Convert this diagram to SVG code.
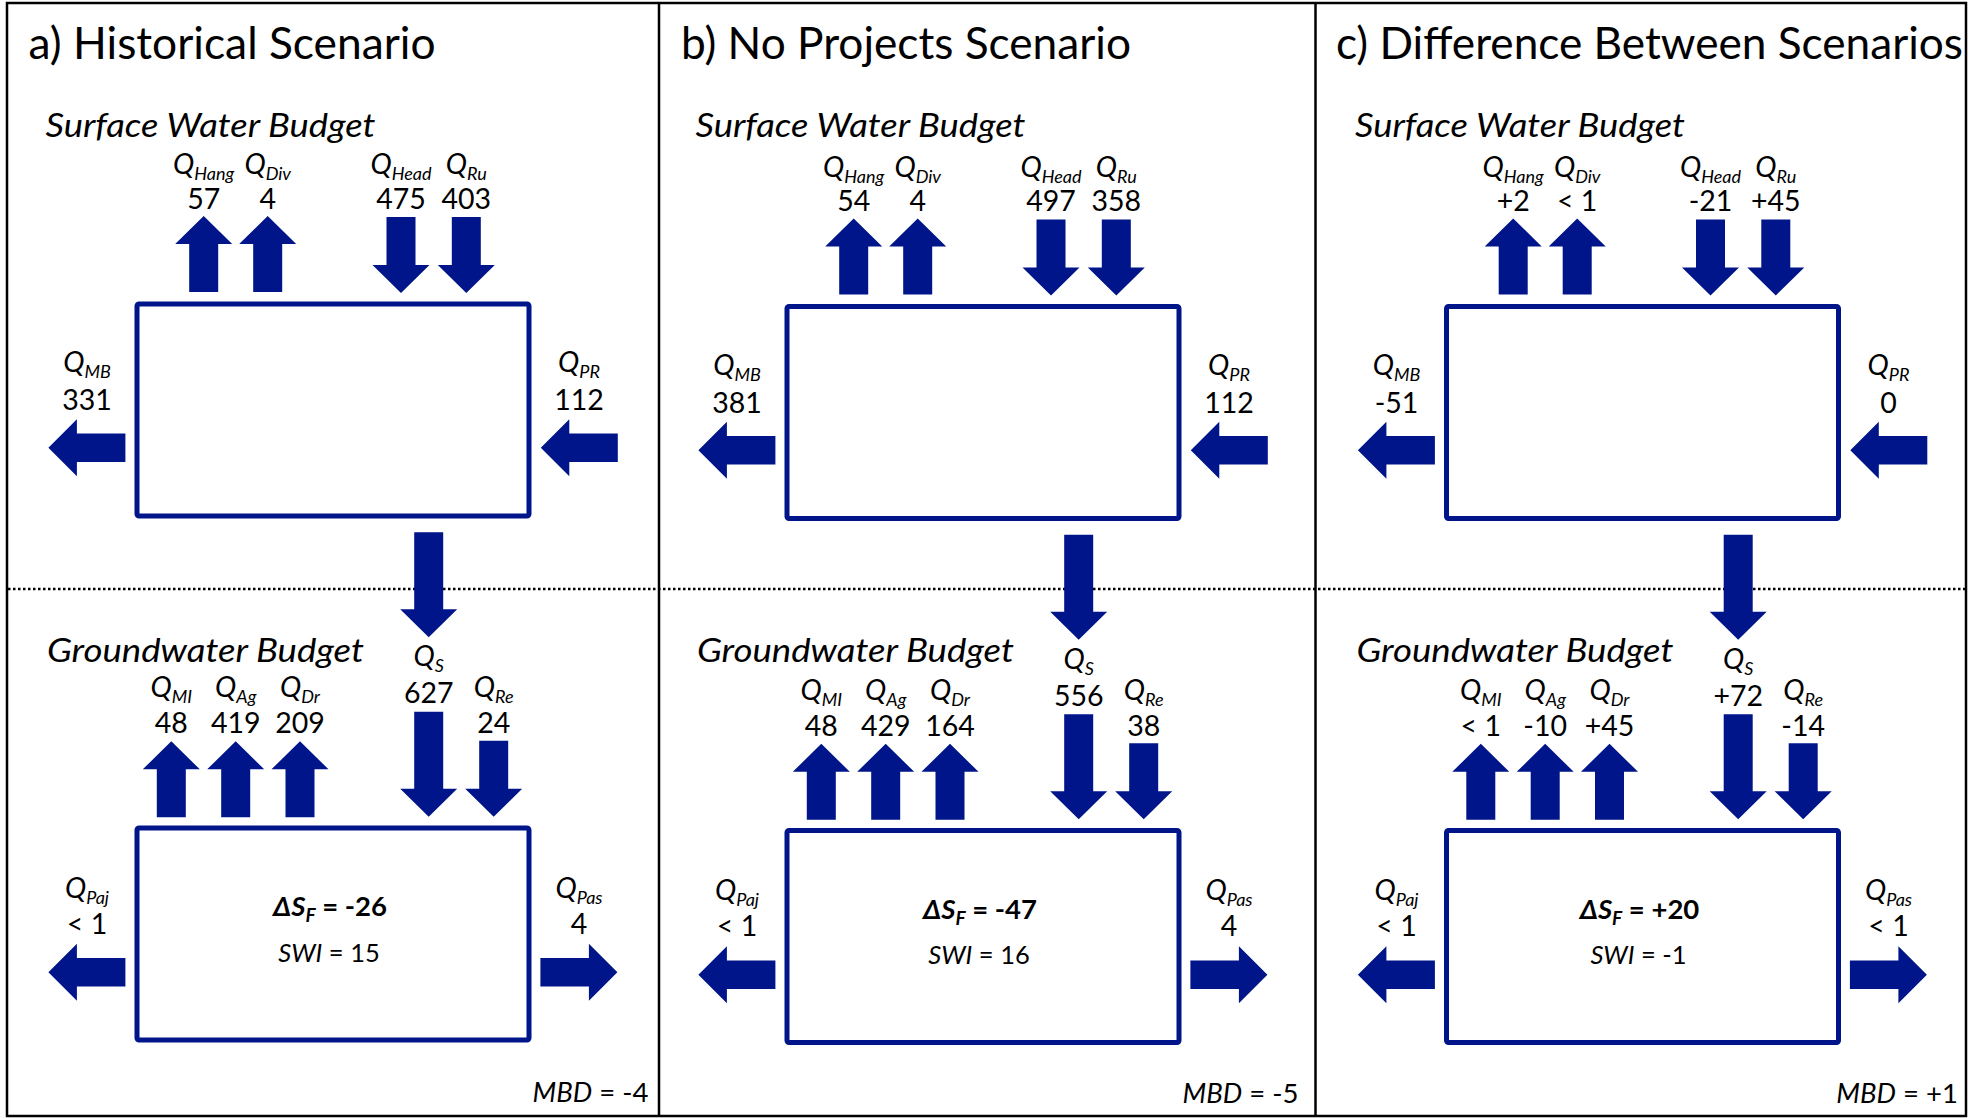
<svg xmlns="http://www.w3.org/2000/svg" xmlns:xlink="http://www.w3.org/1999/xlink" width="1980" height="1118" viewBox="0 0 1980 1118">
<style>
text { font-family: Lato, "Open Sans", "Liberation Sans", sans-serif; fill: #000; }
.title { font-size: 44px; }
.sub { font-size: 33.5px; font-style: italic; }
.q { font-size: 28.5px; font-style: italic; text-anchor: middle; }
.qs { font-size: 18px; }
.n { font-size: 28.5px; text-anchor: middle; }
.ds { font-size: 27.5px; font-weight: bold; text-anchor: middle; }
.it { font-style: italic; }
.swi { font-size: 25.5px; text-anchor: middle; }
.mbd { font-size: 27.5px; text-anchor: end; }
.box { fill: #fff; stroke: #001589; stroke-width: 5; }
.arr { fill: #001589; }
.frame { fill: none; stroke: #000; stroke-width: 2.5; }
.dots { stroke: #000; stroke-width: 2.5; stroke-dasharray: 2.5 2.5; }
</style>
<defs>
<path id="up" class="arr" d="M0,0 L28.5,28 L14.5,28 L14.5,76 L-14.5,76 L-14.5,28 L-28.5,28 Z"/>
<path id="down" class="arr" d="M0,0 L-28.5,-28 L-14.5,-28 L-14.5,-76 L14.5,-76 L14.5,-28 L28.5,-28 Z"/>
<path id="downlong" class="arr" d="M0,0 L-28.5,-28 L-14.5,-28 L-14.5,-105 L14.5,-105 L14.5,-28 L28.5,-28 Z"/>
<path id="left" class="arr" d="M0,0 L28.5,-28.5 L28.5,-14.2 L77,-14.2 L77,14.2 L28.5,14.2 L28.5,28.5 Z"/>
<path id="right" class="arr" d="M0,0 L-28.5,-28.5 L-28.5,-14.2 L-77,-14.2 L-77,14.2 L-28.5,14.2 L-28.5,28.5 Z"/>
</defs>

<rect x="0" y="0" width="1980" height="1118" fill="#fff"/>

<g id="frame">
<rect class="frame" x="7" y="3" width="1959" height="1113"/>
<line x1="659" y1="3" x2="659" y2="1116" stroke="#000" stroke-width="2.5"/>
<line x1="1315.5" y1="3" x2="1315.5" y2="1116" stroke="#000" stroke-width="2.5"/>
<line class="dots" x1="8" y1="589" x2="1965" y2="589"/>
</g>

<g id="titles">
<text class="title" x="28.6" y="58.5" textLength="407" lengthAdjust="spacingAndGlyphs">a) Historical Scenario</text>
<text class="title" x="681" y="59" textLength="450" lengthAdjust="spacingAndGlyphs">b) No Projects Scenario</text>
<text class="title" x="1336" y="59" textLength="627" lengthAdjust="spacingAndGlyphs">c) Difference Between Scenarios</text>
</g>

<!-- Panel a -->
<g id="panel-a">
<text class="sub" x="45.5" y="137" textLength="330" lengthAdjust="spacingAndGlyphs">Surface Water Budget</text>
<text class="sub" x="47" y="661.5" textLength="317" lengthAdjust="spacingAndGlyphs">Groundwater Budget</text>
<g id="a-surface-water">
<rect class="box" x="137" y="304" width="392" height="212" rx="2"/>
</g>
<g id="a-groundwater">
<rect class="box" x="137" y="828" width="392" height="212" rx="2"/>
<text class="ds" x="330" y="916"><tspan class="it">ΔS</tspan><tspan class="it" font-size="19" dy="6">F</tspan><tspan dy="-6"> = -26</tspan></text>
<text class="swi" x="329" y="961.5"><tspan class="it">SWI</tspan> = 15</text>
</g>
<g id="a-connectors">
<use href="#up" x="203.7" y="216"/>
<use href="#up" x="267.7" y="216"/>
<use href="#down" x="401" y="293"/>
<use href="#down" x="466.3" y="293"/>
<use href="#left" x="48.4" y="447.7"/>
<use href="#left" x="540.8" y="447.7"/>
<use href="#downlong" x="428.7" y="637.3"/>
<use href="#up" x="171.3" y="741.3"/>
<use href="#up" x="235.7" y="741.3"/>
<use href="#up" x="300" y="741.3"/>
<use href="#downlong" x="428.7" y="816.7"/>
<use href="#down" x="493.7" y="816.7"/>
<use href="#left" x="48.4" y="972.2"/>
<use href="#right" x="617.4" y="972.2"/>
</g>
<g id="a-labels">
<text class="q" x="203.7" y="174">Q<tspan class="qs" dy="6">Hang</tspan></text>
<text class="n" x="203.7" y="208.5">57</text>
<text class="q" x="267.7" y="174">Q<tspan class="qs" dy="6">Div</tspan></text>
<text class="n" x="267.7" y="208.5">4</text>
<text class="q" x="401" y="174">Q<tspan class="qs" dy="6">Head</tspan></text>
<text class="n" x="401" y="208.5">475</text>
<text class="q" x="466.3" y="174">Q<tspan class="qs" dy="6">Ru</tspan></text>
<text class="n" x="466.3" y="208.5">403</text>
<text class="q" x="87" y="372">Q<tspan class="qs" dy="6">MB</tspan></text>
<text class="n" x="87" y="410">331</text>
<text class="q" x="579" y="372">Q<tspan class="qs" dy="6">PR</tspan></text>
<text class="n" x="579" y="410">112</text>
<text class="q" x="428.7" y="666">Q<tspan class="qs" dy="6">S</tspan></text>
<text class="n" x="428.7" y="703">627</text>
<text class="q" x="171.3" y="697">Q<tspan class="qs" dy="6">MI</tspan></text>
<text class="n" x="171.3" y="733">48</text>
<text class="q" x="235.7" y="697">Q<tspan class="qs" dy="6">Ag</tspan></text>
<text class="n" x="235.7" y="733">419</text>
<text class="q" x="300" y="697">Q<tspan class="qs" dy="6">Dr</tspan></text>
<text class="n" x="300" y="733">209</text>
<text class="q" x="493.7" y="697">Q<tspan class="qs" dy="6">Re</tspan></text>
<text class="n" x="493.7" y="733">24</text>
<text class="q" x="87" y="897.5">Q<tspan class="qs" dy="6">Paj</tspan></text>
<text class="n" x="87" y="933.5">&lt; 1</text>
<text class="q" x="579" y="897.5">Q<tspan class="qs" dy="6">Pas</tspan></text>
<text class="n" x="579" y="933.5">4</text>
<text class="mbd" x="648.5" y="1102"><tspan class="it">MBD</tspan> = -4</text>
</g>
</g>

<!-- Panel b -->
<g id="panel-b" transform="translate(650,2.5)">
<text class="sub" x="45.5" y="134.5" textLength="330" lengthAdjust="spacingAndGlyphs">Surface Water Budget</text>
<text class="sub" x="47" y="659" textLength="317" lengthAdjust="spacingAndGlyphs">Groundwater Budget</text>
<g id="b-surface-water">
<rect class="box" x="137" y="304" width="392" height="212" rx="2"/>
</g>
<g id="b-groundwater">
<rect class="box" x="137" y="828" width="392" height="212" rx="2"/>
<text class="ds" x="330" y="916"><tspan class="it">ΔS</tspan><tspan class="it" font-size="19" dy="6">F</tspan><tspan dy="-6"> = -47</tspan></text>
<text class="swi" x="329" y="961.5"><tspan class="it">SWI</tspan> = 16</text>
</g>
<g id="b-connectors">
<use href="#up" x="203.7" y="216"/>
<use href="#up" x="267.7" y="216"/>
<use href="#down" x="401" y="293"/>
<use href="#down" x="466.3" y="293"/>
<use href="#left" x="48.4" y="447.7"/>
<use href="#left" x="540.8" y="447.7"/>
<use href="#downlong" x="428.7" y="637.3"/>
<use href="#up" x="171.3" y="741.3"/>
<use href="#up" x="235.7" y="741.3"/>
<use href="#up" x="300" y="741.3"/>
<use href="#downlong" x="428.7" y="816.7"/>
<use href="#down" x="493.7" y="816.7"/>
<use href="#left" x="48.4" y="972.2"/>
<use href="#right" x="617.4" y="972.2"/>
</g>
<g id="b-labels">
<text class="q" x="203.7" y="174">Q<tspan class="qs" dy="6">Hang</tspan></text>
<text class="n" x="203.7" y="208.5">54</text>
<text class="q" x="267.7" y="174">Q<tspan class="qs" dy="6">Div</tspan></text>
<text class="n" x="267.7" y="208.5">4</text>
<text class="q" x="401" y="174">Q<tspan class="qs" dy="6">Head</tspan></text>
<text class="n" x="401" y="208.5">497</text>
<text class="q" x="466.3" y="174">Q<tspan class="qs" dy="6">Ru</tspan></text>
<text class="n" x="466.3" y="208.5">358</text>
<text class="q" x="87" y="372">Q<tspan class="qs" dy="6">MB</tspan></text>
<text class="n" x="87" y="410">381</text>
<text class="q" x="579" y="372">Q<tspan class="qs" dy="6">PR</tspan></text>
<text class="n" x="579" y="410">112</text>
<text class="q" x="428.7" y="666">Q<tspan class="qs" dy="6">S</tspan></text>
<text class="n" x="428.7" y="703">556</text>
<text class="q" x="171.3" y="697">Q<tspan class="qs" dy="6">MI</tspan></text>
<text class="n" x="171.3" y="733">48</text>
<text class="q" x="235.7" y="697">Q<tspan class="qs" dy="6">Ag</tspan></text>
<text class="n" x="235.7" y="733">429</text>
<text class="q" x="300" y="697">Q<tspan class="qs" dy="6">Dr</tspan></text>
<text class="n" x="300" y="733">164</text>
<text class="q" x="493.7" y="697">Q<tspan class="qs" dy="6">Re</tspan></text>
<text class="n" x="493.7" y="733">38</text>
<text class="q" x="87" y="897.5">Q<tspan class="qs" dy="6">Paj</tspan></text>
<text class="n" x="87" y="933.5">&lt; 1</text>
<text class="q" x="579" y="897.5">Q<tspan class="qs" dy="6">Pas</tspan></text>
<text class="n" x="579" y="933.5">4</text>
<text class="mbd" x="648.5" y="1100"><tspan class="it">MBD</tspan> = -5</text>
</g>
</g>

<!-- Panel c -->
<g id="panel-c" transform="translate(1309.5,2.5)">
<text class="sub" x="45.5" y="134.5" textLength="330" lengthAdjust="spacingAndGlyphs">Surface Water Budget</text>
<text class="sub" x="47" y="659" textLength="317" lengthAdjust="spacingAndGlyphs">Groundwater Budget</text>
<g id="c-surface-water">
<rect class="box" x="137" y="304" width="392" height="212" rx="2"/>
</g>
<g id="c-groundwater">
<rect class="box" x="137" y="828" width="392" height="212" rx="2"/>
<text class="ds" x="330" y="916"><tspan class="it">ΔS</tspan><tspan class="it" font-size="19" dy="6">F</tspan><tspan dy="-6"> = +20</tspan></text>
<text class="swi" x="329" y="961.5"><tspan class="it">SWI</tspan> = -1</text>
</g>
<g id="c-connectors">
<use href="#up" x="203.7" y="216"/>
<use href="#up" x="267.7" y="216"/>
<use href="#down" x="401" y="293"/>
<use href="#down" x="466.3" y="293"/>
<use href="#left" x="48.4" y="447.7"/>
<use href="#left" x="540.8" y="447.7"/>
<use href="#downlong" x="428.7" y="637.3"/>
<use href="#up" x="171.3" y="741.3"/>
<use href="#up" x="235.7" y="741.3"/>
<use href="#up" x="300" y="741.3"/>
<use href="#downlong" x="428.7" y="816.7"/>
<use href="#down" x="493.7" y="816.7"/>
<use href="#left" x="48.4" y="972.2"/>
<use href="#right" x="617.4" y="972.2"/>
</g>
<g id="c-labels">
<text class="q" x="203.7" y="174">Q<tspan class="qs" dy="6">Hang</tspan></text>
<text class="n" x="203.7" y="208.5">+2</text>
<text class="q" x="267.7" y="174">Q<tspan class="qs" dy="6">Div</tspan></text>
<text class="n" x="267.7" y="208.5">&lt; 1</text>
<text class="q" x="401" y="174">Q<tspan class="qs" dy="6">Head</tspan></text>
<text class="n" x="401" y="208.5">-21</text>
<text class="q" x="466.3" y="174">Q<tspan class="qs" dy="6">Ru</tspan></text>
<text class="n" x="466.3" y="208.5">+45</text>
<text class="q" x="87" y="372">Q<tspan class="qs" dy="6">MB</tspan></text>
<text class="n" x="87" y="410">-51</text>
<text class="q" x="579" y="372">Q<tspan class="qs" dy="6">PR</tspan></text>
<text class="n" x="579" y="410">0</text>
<text class="q" x="428.7" y="666">Q<tspan class="qs" dy="6">S</tspan></text>
<text class="n" x="428.7" y="703">+72</text>
<text class="q" x="171.3" y="697">Q<tspan class="qs" dy="6">MI</tspan></text>
<text class="n" x="171.3" y="733">&lt; 1</text>
<text class="q" x="235.7" y="697">Q<tspan class="qs" dy="6">Ag</tspan></text>
<text class="n" x="235.7" y="733">-10</text>
<text class="q" x="300" y="697">Q<tspan class="qs" dy="6">Dr</tspan></text>
<text class="n" x="300" y="733">+45</text>
<text class="q" x="493.7" y="697">Q<tspan class="qs" dy="6">Re</tspan></text>
<text class="n" x="493.7" y="733">-14</text>
<text class="q" x="87" y="897.5">Q<tspan class="qs" dy="6">Paj</tspan></text>
<text class="n" x="87" y="933.5">&lt; 1</text>
<text class="q" x="579" y="897.5">Q<tspan class="qs" dy="6">Pas</tspan></text>
<text class="n" x="579" y="933.5">&lt; 1</text>
<text class="mbd" x="648.5" y="1100"><tspan class="it">MBD</tspan> = +1</text>
</g>
</g>
</svg>
